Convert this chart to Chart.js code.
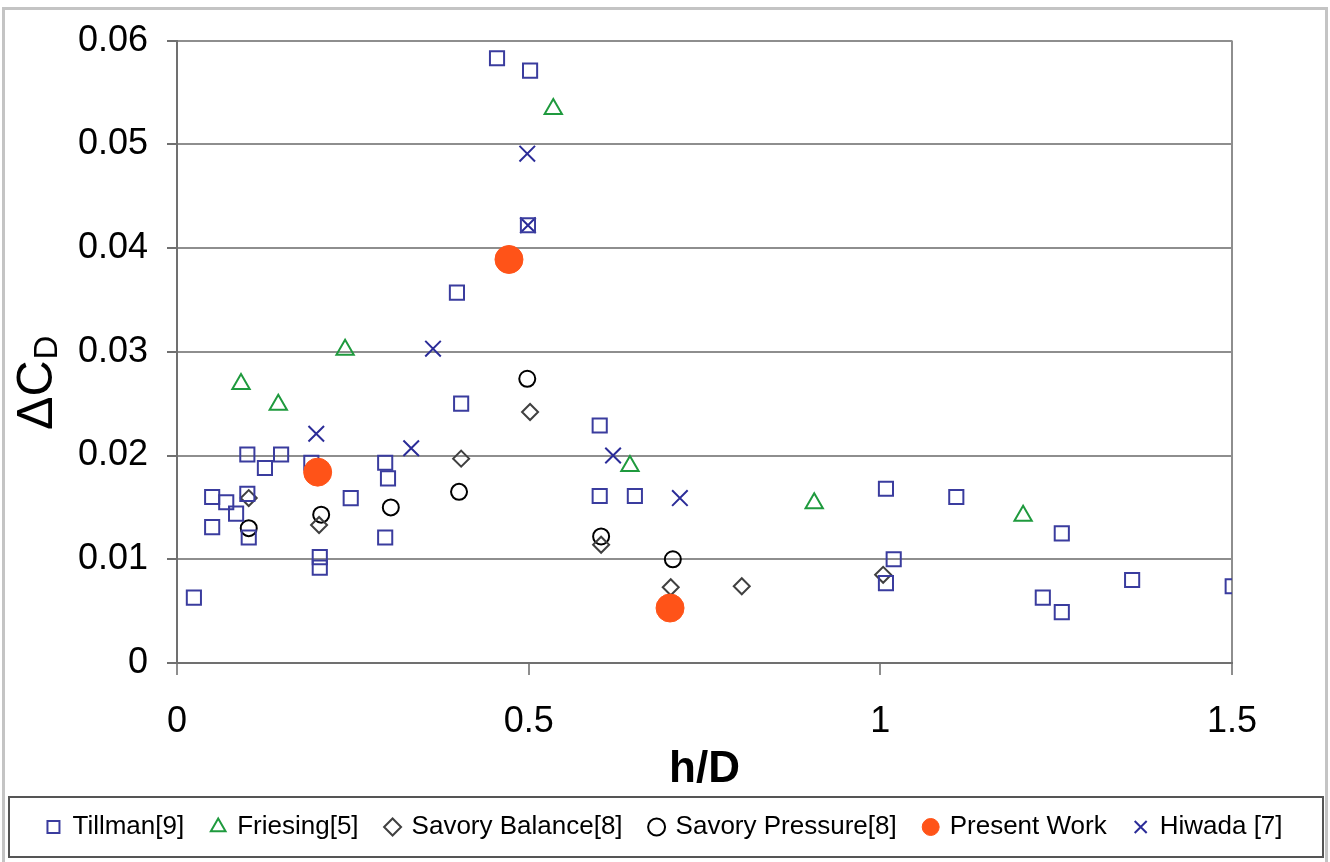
<!DOCTYPE html>
<html>
<head>
<meta charset="utf-8">
<title>Delta CD vs h/D</title>
<script src="https://cdn.jsdelivr.net/npm/chart.js@4.4.1/dist/chart.umd.min.js"></script>
<style>
  html, body { margin: 0; padding: 0; background: #fff; }
  #wrap { position: relative; width: 1330px; height: 862px; }
</style>
</head>
<body>
<div id="wrap"><canvas id="dragChart"></canvas></div>
<script>
// tick labels
var xTicks = [0, 0.5, 1, 1.5];
var xTickLabels = ["0", "0.5", "1", "1.5"];
var yTicks = [0, 0.01, 0.02, 0.03, 0.04, 0.05, 0.06];
var yTickLabels = ["0", "0.01", "0.02", "0.03", "0.04", "0.05", "0.06"];

// series (h/D, delta CD)
var tillmanX = [0.024, 0.050, 0.050, 0.070, 0.084, 0.100, 0.100, 0.102, 0.125, 0.148, 0.191, 0.203, 0.203, 0.247, 0.296, 0.300, 0.296, 0.398, 0.404, 0.455, 0.502, 0.499, 0.601, 0.601, 0.651, 1.008, 1.008, 1.019, 1.108, 1.231, 1.258, 1.258, 1.358, 1.501];
var tillmanY = [0.0063, 0.0160, 0.0131, 0.0155, 0.0144, 0.0201, 0.0163, 0.0121, 0.0188, 0.0201, 0.0193, 0.0102, 0.0092, 0.0159, 0.0193, 0.0178, 0.0121, 0.0357, 0.0250, 0.0583, 0.0571, 0.0422, 0.0229, 0.0161, 0.0161, 0.0168, 0.0077, 0.0100, 0.0160, 0.0063, 0.0125, 0.0049, 0.0080, 0.0074];

var friesingX = [0.091, 0.144, 0.239, 0.535, 0.644, 0.906, 1.203];
var friesingY = [0.0269, 0.0249, 0.0302, 0.0534, 0.0190, 0.0154, 0.0142];

var balanceX = [0.102, 0.202, 0.404, 0.502, 0.603, 0.702, 0.803, 1.004];
var balanceY = [0.0159, 0.0133, 0.0197, 0.0242, 0.0114, 0.0073, 0.0074, 0.0085];

var pressureX = [0.102, 0.205, 0.304, 0.401, 0.498, 0.603, 0.705];
var pressureY = [0.0130, 0.0143, 0.0150, 0.0165, 0.0274, 0.0122, 0.0100];

var presentX = [0.200, 0.472, 0.701];
var presentY = [0.0184, 0.0389, 0.0053];

var hiwadaX = [0.198, 0.333, 0.364, 0.498, 0.499, 0.620, 0.715];
var hiwadaY = [0.0221, 0.0207, 0.0303, 0.0491, 0.0422, 0.0200, 0.0159];

function pts(xs, ys) {
    var out = [];
    for (var i = 0; i < xs.length; i++) out.push({ x: xs[i], y: ys[i] });
    return out;
}

var gridGrey = "#8e8e8e";
var axisGrey = "#707070";
var fontFam = "'Liberation Sans', Arial, sans-serif";

// frame, legend box and the y title with its subscript
var decorations = {
    id: "decorations",
    afterDraw: function (chart) {
        var ctx = chart.ctx;
        ctx.save();
        // outer frame
        ctx.strokeStyle = "#c4c4c4";
        ctx.lineWidth = 3;
        ctx.strokeRect(3.5, 8.5, 1323, 860);

        // box round the legend
        var lg = chart.legend;
        if (lg && lg.legendHitBoxes && lg.legendHitBoxes.length) {
            var hb = lg.legendHitBoxes[0];
            var cy = hb.top + hb.height / 2;
            ctx.strokeStyle = "#555";
            ctx.lineWidth = 2;
            ctx.strokeRect(9, cy - 30, 1314, 60);
        }

        // y title: delta C with subscript D, rotated
        ctx.translate(52, 430);
        ctx.rotate(-Math.PI / 2);
        ctx.fillStyle = "#000";
        ctx.textBaseline = "alphabetic";
        ctx.textAlign = "left";
        ctx.font = "50px " + fontFam;
        var w1 = ctx.measureText("\u0394C").width;
        ctx.fillText("\u0394C", 0, 0);
        ctx.font = "33px " + fontFam;
        ctx.fillText("D", w1 + 1, 5);
        ctx.restore();
    }
};

document.addEventListener("DOMContentLoaded", function () {
    var ctx = document.getElementById("dragChart").getContext("2d");
    new Chart(ctx, {
        type: "scatter",
        data: {
            datasets: [{
                label: "Tillman[9]",
                data: pts(tillmanX, tillmanY),
                pointStyle: "rect",
                radius: 10,
                borderColor: "#3a3c9e",
                backgroundColor: "rgba(0,0,0,0)",
                borderWidth: 2
            }, {
                label: "Friesing[5]",
                data: pts(friesingX, friesingY),
                pointStyle: "triangle",
                radius: 10,
                borderColor: "#1f9a3e",
                backgroundColor: "rgba(0,0,0,0)",
                borderWidth: 2
            }, {
                label: "Savory Balance[8]",
                data: pts(balanceX, balanceY),
                pointStyle: "rectRot",
                radius: 8,
                borderColor: "#404040",
                backgroundColor: "rgba(0,0,0,0)",
                borderWidth: 2
            }, {
                label: "Savory Pressure[8]",
                data: pts(pressureX, pressureY),
                pointStyle: "circle",
                radius: 8,
                borderColor: "#000",
                backgroundColor: "rgba(0,0,0,0)",
                borderWidth: 2
            }, {
                label: "Present Work",
                data: pts(presentX, presentY),
                pointStyle: "circle",
                radius: 14,
                borderColor: "#ff5318",
                backgroundColor: "#ff5318",
                borderWidth: 1,
                order: -1
            }, {
                label: "Hiwada [7]",
                data: pts(hiwadaX, hiwadaY),
                pointStyle: "crossRot",
                radius: 11,
                borderColor: "#2b2c98",
                backgroundColor: "rgba(0,0,0,0)",
                borderWidth: 2
            }]
        },
        options: {
            responsive: true,
            maintainAspectRatio: false,
            animation: false,
            layout: { padding: { left: 0, right: 0, top: 39, bottom: 12 } },
            plugins: {
                tooltip: { enabled: false },
                legend: {
                    position: "bottom",
                    labels: {
                        usePointStyle: true,
                        boxWidth: 12,
                        boxHeight: 12,
                        padding: 28,
                        color: "#000",
                        font: { family: fontFam, size: 26 },
                        sort: function (a, b) { return a.datasetIndex - b.datasetIndex; }
                    }
                }
            },
            scales: {
                x: {
                    type: "linear",
                    min: 0,
                    max: 1.5,
                    afterBuildTicks: function (scale) {
                        scale.ticks = xTicks.map(function (v) { return { value: v }; });
                    },
                    afterFit: function (scale) { scale.height = 123; },
                    ticks: {
                        padding: 25,
                        color: "#000",
                        font: { family: fontFam, size: 36 },
                        callback: function (v, i) { return xTickLabels[i]; }
                    },
                    grid: {
                        color: function (c) {
                            return (c.tick && c.tick.value === 1.5) ? gridGrey : "rgba(0,0,0,0)";
                        },
                        lineWidth: 2,
                        tickColor: gridGrey,
                        tickLength: 12
                    },
                    border: { color: axisGrey, width: 2 },
                    title: {
                        display: true,
                        text: "h/D",
                        color: "#000",
                        padding: { top: 0, bottom: -10 },
                        font: { family: fontFam, size: 44, weight: "bold" }
                    }
                },
                y: {
                    type: "linear",
                    min: 0,
                    max: 0.06,
                    afterBuildTicks: function (scale) {
                        scale.ticks = yTicks.map(function (v) { return { value: v }; });
                    },
                    afterFit: function (scale) { scale.width = 177; },
                    ticks: {
                        padding: 19,
                        color: "#000",
                        font: { family: fontFam, size: 36 },
                        callback: function (v, i) { return yTickLabels[i]; }
                    },
                    grid: {
                        color: gridGrey,
                        lineWidth: 2,
                        tickColor: axisGrey,
                        tickLength: 10
                    },
                    border: { color: axisGrey, width: 2 }
                },
                // empty right-hand axis that only reserves the margin beside the plot
                yRight: {
                    type: "linear",
                    position: "right",
                    min: 0,
                    max: 1,
                    afterFit: function (scale) { scale.width = 98; },
                    ticks: { display: false },
                    grid: { display: false },
                    border: { display: false }
                }
            }
        },
        plugins: [decorations]
    });
});
</script>
</body>
</html>
